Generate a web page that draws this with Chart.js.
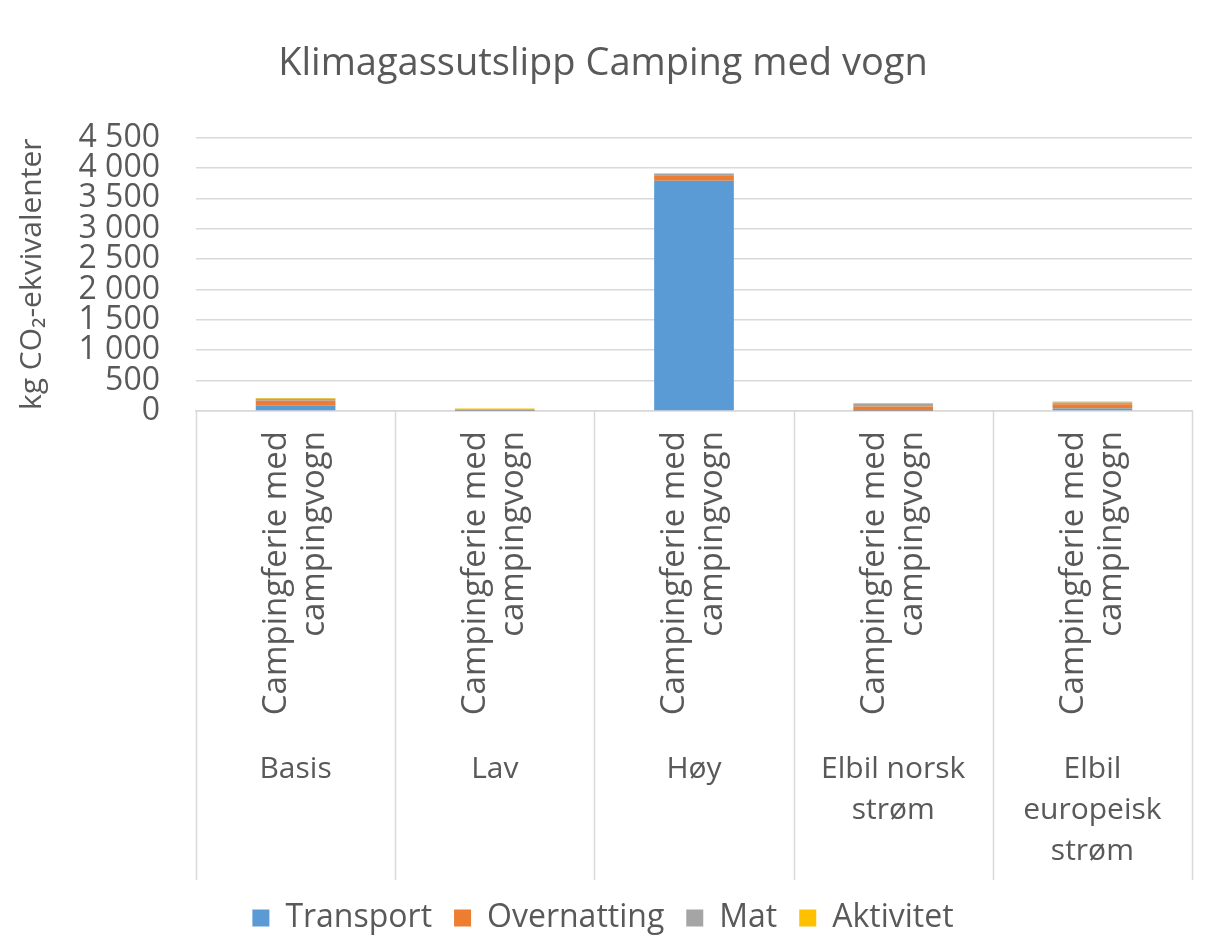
<!DOCTYPE html>
<html lang="no">
<head>
    <meta charset="UTF-8">
    <title>Klimagassutslipp Camping med vogn</title>
    <script src="https://cdn.jsdelivr.net/npm/chart.js"></script>
    <style>
        body { margin: 0; background: #fff; }
        #wrap { width: 1216px; height: 950px; }
    </style>
</head>
<body>
    <div id="wrap">
        <canvas id="chart" width="1216" height="950"></canvas>
    </div>

    <script>
        // scenarier (nederste kategorirad) og underkategori (rotert tekst)
        const scenarios = ['Basis', 'Lav', 'Høy', ['Elbil norsk', 'strøm'], ['Elbil', 'europeisk', 'strøm']];
        const subLabel = ['Campingferie med', 'campingvogn'];

        // kg CO2-ekvivalenter, lest av figuren
        const transport   = [85, 5, 3790, 3, 40];
        const overnatting = [85, 8, 90, 70, 70];
        const mat         = [30, 15, 20, 45, 30];
        const aktivitet   = [15, 12, 15, 15, 15];

        const yTicks = [0, 500, 1000, 1500, 2000, 2500, 3000, 3500, 4000, 4500];

        const textColor = '#595959';
        const gridColor = '#d9d9d9';
        const fontFamily = '"Open Sans", sans-serif';

        // skillelinjer mellom kategoriene nedover i aksefeltet (som i Excel)
        const separatorPlugin = {
            id: 'separators',
            afterDraw(chart) {
                const xs = chart.scales.x;
                const bottom = chart.scales.x2.bottom;
                const n = xs.getLabels().length;
                const step = xs.width / n;
                const ctx = chart.ctx;
                ctx.save();
                ctx.strokeStyle = gridColor;
                ctx.lineWidth = 1.5;
                for (let i = 0; i <= n; i++) {
                    const px = Math.round(xs.left + i * step) + 0.5;
                    ctx.beginPath();
                    ctx.moveTo(px, chart.chartArea.bottom);
                    ctx.lineTo(px, bottom);
                    ctx.stroke();
                }
                ctx.restore();
            }
        };

        const ctx = document.getElementById('chart').getContext('2d');
        const chart = new Chart(ctx, {
            type: 'bar',
            data: {
                labels: scenarios.map(() => subLabel),
                datasets: [
                    { label: 'Transport', data: transport, backgroundColor: '#5b9bd5' },
                    { label: 'Overnatting', data: overnatting, backgroundColor: '#ed7d31' },
                    { label: 'Mat', data: mat, backgroundColor: '#a5a5a5' },
                    { label: 'Aktivitet', data: aktivitet, backgroundColor: '#ffc000' }
                ]
            },
            options: {
                responsive: false,
                animation: false,
                categoryPercentage: 1,
                barPercentage: 0.4,
                layout: { padding: { left: 14, right: 24, bottom: 6 } },
                scales: {
                    x: {
                        stacked: true,
                        weight: 0,
                        grid: { display: false },
                        border: { display: true, color: gridColor, width: 1.5 },
                        ticks: {
                            color: textColor,
                            font: { family: fontFamily, size: 33, lineHeight: 1.15 },
                            minRotation: 90,
                            maxRotation: 90,
                            autoSkip: false,
                            labelOffset: -19,
                            padding: 12
                        },
                        afterFit(scale) { scale.height = 330; }
                    },
                    x2: {
                        type: 'category',
                        labels: scenarios,
                        position: 'bottom',
                        weight: 1,
                        grid: { display: false },
                        border: { display: false },
                        ticks: {
                            color: textColor,
                            font: { family: fontFamily, size: 30, lineHeight: 1.37 },
                            maxRotation: 0,
                            autoSkip: false,
                            padding: 0
                        },
                        afterFit(scale) { scale.height = 139; }
                    },
                    y: {
                        stacked: true,
                        min: 0,
                        max: 4500,
                        afterBuildTicks(scale) {
                            scale.ticks = yTicks.map(v => ({ value: v }));
                        },
                        grid: { color: gridColor, lineWidth: 1.5, drawTicks: false },
                        border: { display: false },
                        ticks: {
                            color: textColor,
                            font: { family: fontFamily, size: 32, lineHeight: 1 },
                            autoSkip: false,
                            padding: 36,
                            callback: v => String(v).replace(/\B(?=(\d{3})+(?!\d))/g, ' ')
                        },
                        title: {
                            display: true,
                            text: 'kg CO₂-ekvivalenter',
                            color: textColor,
                            font: { family: fontFamily, size: 30 },
                            padding: 0
                        },
                        afterFit(scale) { scale.width = 182; }
                    }
                },
                plugins: {
                    title: {
                        display: true,
                        text: 'Klimagassutslipp Camping med vogn',
                        color: textColor,
                        font: { family: fontFamily, size: 38, weight: 'normal' },
                        padding: { top: 41, bottom: 51 }
                    },
                    legend: {
                        position: 'bottom',
                        labels: {
                            color: textColor,
                            font: { family: fontFamily, size: 32 },
                            boxWidth: 17,
                            boxHeight: 17,
                            padding: 22
                        }
                    },
                    tooltip: { enabled: false }
                }
            },
            plugins: [separatorPlugin]
        });
    </script>
</body>
</html>
